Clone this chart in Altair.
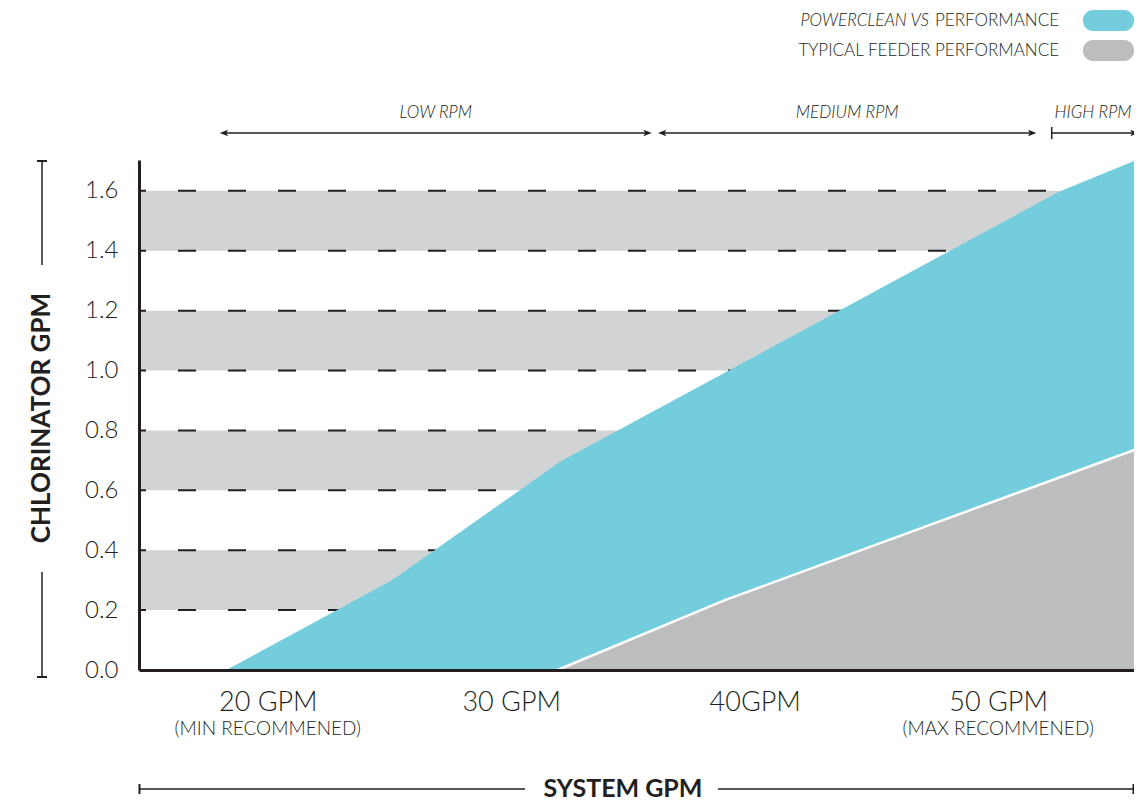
import altair as alt
import pandas as pd

# ---------------- data ----------------
gpm_ticks = [20, 30, 40, 50]
gpm_labels = ["20 GPM", "30 GPM", "40GPM", "50 GPM"]
sub_label_gpm = [20, 50]
sub_labels = ["(MIN RECOMMENED)", "(MAX RECOMMENED)"]

y_ticks = [0.0, 0.2, 0.4, 0.6, 0.8, 1.0, 1.2, 1.4, 1.6]
dash_levels = [0.2, 0.4, 0.6, 0.8, 1.0, 1.2, 1.4, 1.6]
band_lo = [0.2, 0.6, 1.0, 1.4]
band_hi = [0.4, 0.8, 1.2, 1.6]

pc_gpm = [18.3, 25.1, 32.0, 52.5, 55.6]
pc_cl = [0.0, 0.30, 0.695, 1.597, 1.70]
tf_gpm = [31.9, 38.8, 55.6]
tf_cl = [0.0, 0.234, 0.735]

rpm_names = ["LOW RPM", "MEDIUM RPM", "HIGH RPM"]
rpm_start = [18.2, 36.2, 52.2]
rpm_end = [35.6, 51.4, 55.6]
rpm_left_arrow = [True, True, False]

series_italic = ["POWERCLEAN VS", ""]
series_regular = ["PERFORMANCE", "TYPICAL FEEDER PERFORMANCE"]
series_colors = ["#74cddd", "#bcbdbf"]
band_color = "#d1d3d4"

x_title = "SYSTEM GPM"
y_title = "CHLORINATOR GPM"

# ---------------- chart ----------------
W, H = 995, 510
INK = "#231f20"
FONT = "Lato"

xs = alt.Scale(domain=[14.71, 55.58], nice=False, zero=False)
ys = alt.Scale(domain=[0, 1.703], nice=False, zero=True)

label_map = "{" + ",".join(f"'{t}':'{l}'" for t, l in zip(gpm_ticks, gpm_labels)) + "}"

x_axis = alt.Axis(
    values=gpm_ticks,
    labelExpr=f"{label_map}[datum.label]",
    title=None,
    ticks=False,
    grid=False,
    domainColor=INK,
    domainWidth=3,
    labelFont=FONT,
    labelFontSize=27,
    labelFontWeight=300,
    labelColor=INK,
    labelPadding=19,
    labelFlush=False,
    labelOverlap=False,
    zindex=2,
)
y_axis = alt.Axis(
    values=y_ticks,
    format=".1f",
    title=None,
    ticks=False,
    grid=False,
    domainColor=INK,
    domainWidth=3,
    labelFont=FONT,
    labelFontSize=24,
    labelFontWeight=300,
    labelColor=INK,
    labelPadding=21,
    labelFlush=False,
    labelOverlap=False,
    zindex=2,
)

def X(field):
    return alt.X(field, scale=xs, axis=x_axis)

def Y(field):
    return alt.Y(field, scale=ys, axis=y_axis)

one = pd.DataFrame({"k": [0]})

bands = alt.Chart(pd.DataFrame({"lo": band_lo, "hi": band_hi})).mark_rect(
    color=band_color
).encode(y=Y("lo:Q"), y2="hi:Q", x=alt.value(0), x2=alt.value(W))

dashes = alt.Chart(pd.DataFrame({"lv": dash_levels})).mark_rule(
    color=INK, strokeWidth=2, strokeDash=[18, 32], strokeDashOffset=11
).encode(y=Y("lv:Q"), x=alt.value(0), x2=alt.value(W))

blue = alt.Chart(pd.DataFrame({"gpm": pc_gpm, "cl": pc_cl})).mark_area(
    color=series_colors[0], opacity=1
).encode(x=X("gpm:Q"), y=Y("cl:Q"))

tf_df = pd.DataFrame({"gpm": tf_gpm, "cl": tf_cl})
grey = alt.Chart(tf_df).mark_area(color=series_colors[1], opacity=1).encode(
    x=X("gpm:Q"), y=Y("cl:Q"))
grey_edge = alt.Chart(tf_df).mark_line(color="white", strokeWidth=2.5).encode(
    x=X("gpm:Q"), y=Y("cl:Q"))

sub = alt.Chart(pd.DataFrame({"g": sub_label_gpm, "t": sub_labels})).mark_text(
    font=FONT, fontSize=19, fontWeight=300, color=INK, baseline="middle"
).encode(x=X("g:Q"), y=alt.value(569), text="t:N")

# RPM ranges
rpm_df = pd.DataFrame(
    {"name": rpm_names, "s": rpm_start, "e": rpm_end, "la": rpm_left_arrow}
)
rpm_base = alt.Chart(rpm_df)
rpm_lines = rpm_base.mark_rule(color=INK, strokeWidth=1.5).encode(
    x=X("s:Q"), x2="e:Q", y=alt.value(-27))
right_head = "M-1,-0.75L1,0L-1,0.75L-0.55,0Z"
left_head = "M1,-0.75L-1,0L1,0.75L0.55,0Z"
rpm_rhead = rpm_base.mark_point(
    shape=right_head, filled=True, color=INK, size=70, opacity=1
).encode(x=X("e:Q"), y=alt.value(-27))
rpm_lhead = rpm_base.transform_filter("datum.la").mark_point(
    shape=left_head, filled=True, color=INK, size=70, opacity=1
).encode(x=X("s:Q"), y=alt.value(-27))
rpm_cap = rpm_base.transform_filter("!datum.la").mark_rule(
    color=INK, strokeWidth=1.5
).encode(x=X("s:Q"), y=alt.value(-33), y2=alt.value(-21))
rpm_text = rpm_base.transform_calculate(m="(datum.s + datum.e) / 2").mark_text(
    font=FONT, fontSize=17, fontWeight=300, fontStyle="italic", color=INK,
    baseline="middle",
).encode(x=X("m:Q"), y=alt.value(-47), text="name:N")

# Titles
ytitle = alt.Chart(pd.DataFrame({"t": [y_title]})).mark_text(
    font=FONT, fontSize=26, fontWeight="bold", color=INK, angle=270,
    baseline="middle", align="center",
).encode(x=alt.value(-97), y=alt.value(258), text="t:N")
xtitle = alt.Chart(pd.DataFrame({"t": [x_title]})).mark_text(
    font=FONT, fontSize=25, fontWeight="bold", color=INK,
    baseline="middle", align="center",
).encode(x=alt.value(484), y=alt.value(629), text="t:N")

deco_rule = dict(color=INK, strokeWidth=1.5)
yt_line1 = alt.Chart(one).mark_rule(**deco_rule).encode(
    x=alt.value(-97), y=alt.value(1), y2=alt.value(105))
yt_cap1 = alt.Chart(one).mark_rule(color=INK, strokeWidth=2).encode(
    x=alt.value(-102), x2=alt.value(-92), y=alt.value(1))
yt_line2 = alt.Chart(one).mark_rule(**deco_rule).encode(
    x=alt.value(-97), y=alt.value(412), y2=alt.value(517))
yt_cap2 = alt.Chart(one).mark_rule(color=INK, strokeWidth=2).encode(
    x=alt.value(-102), x2=alt.value(-92), y=alt.value(517))
xt_line1 = alt.Chart(one).mark_rule(**deco_rule).encode(
    x=alt.value(0), x2=alt.value(386), y=alt.value(629))
xt_line2 = alt.Chart(one).mark_rule(**deco_rule).encode(
    x=alt.value(579), x2=alt.value(W), y=alt.value(629))
xt_cap1 = alt.Chart(one).mark_rule(color=INK, strokeWidth=2).encode(
    x=alt.value(0.5), y=alt.value(624), y2=alt.value(634))
xt_cap2 = alt.Chart(one).mark_rule(color=INK, strokeWidth=2).encode(
    x=alt.value(W - 0.5), y=alt.value(624), y2=alt.value(634))

# Legend (top right)
leg_layers = []
for i, (it, rg, col) in enumerate(zip(series_italic, series_regular, series_colors)):
    yc = -139 + 30 * i
    d = pd.DataFrame({"it": [it], "rg": [rg]})
    leg_layers.append(
        alt.Chart(d).mark_text(
            font=FONT, fontSize=17, fontWeight=300, color=INK,
            align="right", baseline="middle",
        ).encode(x=alt.value(920), y=alt.value(yc), text="rg:N")
    )
    if it:
        leg_layers.append(
            alt.Chart(d).mark_text(
                font=FONT, fontSize=17, fontWeight=300, fontStyle="italic",
                color=INK, align="right", baseline="middle",
            ).encode(x=alt.value(790), y=alt.value(yc), text="it:N")
        )
    leg_layers.append(
        alt.Chart(d).mark_rect(color=col, cornerRadius=10).encode(
            x=alt.value(944), x2=alt.value(W),
            y=alt.value(yc - 11), y2=alt.value(yc + 10),
        )
    )

chart = alt.layer(
    bands, dashes, blue, grey, grey_edge, sub,
    rpm_lines, rpm_rhead, rpm_lhead, rpm_cap, rpm_text,
    ytitle, xtitle, yt_line1, yt_cap1, yt_line2, yt_cap2,
    xt_line1, xt_line2, xt_cap1, xt_cap2,
    *leg_layers,
).properties(
    width=W, height=H,
    padding={"left": 131, "top": 152, "right": 0, "bottom": 133},
    autosize=alt.AutoSizeParams(type="none"),
    background="white",
).configure_view(stroke=None)

chart.save("out.html", embed_options={"renderer": "svg", "actions": False})
